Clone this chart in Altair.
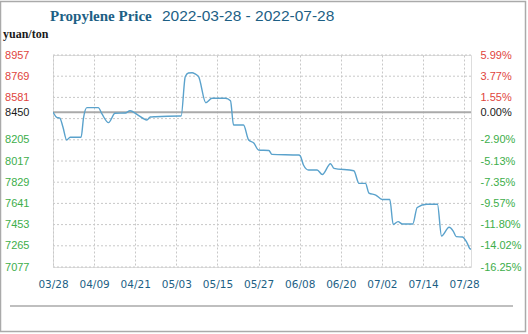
import altair as alt
import pandas as pd

# ---- data ----
days = [0, 1.1, 2.0, 2.9, 4.0, 5.0, 8.2, 8.9, 9.9, 13.2, 14.3, 16.2, 18.1, 21.1, 22.5,
        24.5, 27.4, 28.4, 29.8, 37.1, 37.4, 38.6, 39.5, 40.6, 41.5, 42.5, 44.6, 46.4,
        50.3, 51.8, 52.7, 55.6, 57.1, 58.6, 60.0, 63.0, 63.9, 71.7, 72.2, 73.1, 74.6,
        77.1, 78.6, 81.0, 82.0, 87.8, 89.3, 91.2, 92.2, 94.2, 96.1, 98.3, 99.3, 100.7,
        102.0, 105.0, 106.3, 109.1, 112.2, 113.4, 115.6, 116.8, 117.7, 119.5, 120.8,
        121.8, 122]
prices = [8450, 8404, 8398, 8318, 8203, 8227, 8227, 8398, 8490, 8490, 8434, 8357, 8440,
          8443, 8463, 8431, 8381, 8407, 8410, 8416, 8416, 8765, 8797, 8800, 8789, 8765,
          8534, 8573, 8573, 8552, 8336, 8336, 8203, 8177, 8115, 8110, 8076, 8070, 8061,
          7982, 7937, 7937, 7897, 7993, 7952, 7931, 7819, 7819, 7733, 7715, 7676, 7676,
          7454, 7479, 7458, 7458, 7605, 7634, 7634, 7352, 7429, 7396, 7346, 7343, 7294,
          7237, 7237]

x_tick_days = [0, 12, 24, 36, 48, 60, 72, 84, 96, 108, 120]
x_tick_labels = ["03/28", "04/09", "04/21", "05/03", "05/15", "05/27", "06/08",
                 "06/20", "07/02", "07/14", "07/28"]

grid_values = [8957, 8769, 8581, 8393, 8205, 8017, 7829, 7641, 7453, 7265, 7077]
left_ticks = [8957, 8769, 8581, 8450, 8205, 8017, 7829, 7641, 7453, 7265, 7077]
right_labels = ["5.99%", "3.77%", "1.55%", "0.00%", "-2.90%", "-5.13%", "-7.35%",
                "-9.57%", "-11.80%", "-14.02%", "-16.25%"]
base_value = 8450

title_main = "Propylene Price"
title_dates = "2022-03-28 - 2022-07-28"
unit_label = "yuan/ton"

# ---- styling ----
RED = "#e0443c"
GREEN = "#3dae4a"
BLACK = "#1a1a1a"
BLUE_TXT = "#1d5f85"
LINE = "#5aa2cc"
GRID = "#c8c8c8"

Y_DOMAIN = [7077, 8957]
X_DOMAIN = [0, 122]

df = pd.DataFrame({"day": days, "price": prices})
grid_df = pd.DataFrame({"g": grid_values})
base_df = pd.DataFrame({"b": [base_value]})


def map_expr(keys, labels):
    expr = "''"
    for k, l in reversed(list(zip(keys, labels))):
        expr = f"datum.value == {k} ? '{l}' : ({expr})"
    return expr


label_color = {
    "condition": [
        {"test": f"datum.value > {base_value}", "value": RED},
        {"test": f"datum.value == {base_value}", "value": BLACK},
    ],
    "value": GREEN,
}

xscale = alt.Scale(domain=X_DOMAIN, nice=False, zero=False)
yscale = alt.Scale(domain=Y_DOMAIN, nice=False, zero=False)

x_axis = alt.Axis(
    values=x_tick_days, labelExpr=map_expr(x_tick_days, x_tick_labels), title=None,
    grid=True, gridDash=[2, 2], gridColor=GRID, gridWidth=1, domain=False, ticks=False,
    labelFont="DejaVu Sans", labelFontSize=10.5, labelColor=BLUE_TXT, labelPadding=12,
    labelFlush=False,
)

grid = alt.Chart(grid_df).mark_rule(color=GRID, strokeDash=[2, 2], strokeWidth=1).encode(
    y=alt.Y("g:Q", scale=yscale, axis=alt.Axis(
        orient="right", values=left_ticks, labelExpr=map_expr(left_ticks, right_labels),
        title=None, grid=False, domain=False, ticks=False, labelFont="Liberation Sans",
        labelFontSize=11, labelColor=label_color, labelPadding=9, labelAlign="left",
        labelBaseline="middle", labelFlush=False)),
)

base = alt.Chart(base_df).mark_rule(color="#aaaaaa", strokeWidth=2).encode(
    y=alt.Y("b:Q", scale=yscale, axis=None)
)

line = alt.Chart(df).mark_line(color=LINE, strokeWidth=1.4, interpolate="monotone",
                               clip=True).encode(
    x=alt.X("day:Q", scale=xscale, axis=x_axis),
    y=alt.Y("price:Q", scale=yscale, axis=alt.Axis(
        orient="left", values=left_ticks, format="d", title=None, grid=False,
        domain=False, ticks=False, labelFont="Liberation Sans", labelFontSize=11,
        labelColor=label_color, labelPadding=24, labelAlign="right",
        labelBaseline="middle", labelFlush=False)),
)

texts_df = pd.DataFrame({"t": [title_main]})
t_main = alt.Chart(texts_df).mark_text(
    font="Liberation Serif", fontSize=15, fontWeight="bold", color=BLUE_TXT,
    align="left", baseline="alphabetic"
).encode(text="t:N", x=alt.value(-3), y=alt.value(-34))

t_dates = alt.Chart(pd.DataFrame({"t": [title_dates]})).mark_text(
    font="Liberation Sans", fontSize=15.5, color=BLUE_TXT, align="left",
    baseline="alphabetic"
).encode(text="t:N", x=alt.value(109), y=alt.value(-34))

t_unit = alt.Chart(pd.DataFrame({"t": [unit_label]})).mark_text(
    font="Liberation Serif", fontSize=12, fontWeight="bold", color=BLACK, align="left",
    baseline="alphabetic"
).encode(text="t:N", x=alt.value(-50), y=alt.value(-17))

frame = alt.Chart(texts_df).mark_rect(fill=None, stroke="#aaaaaa", strokeWidth=1.5, clip=False).encode(
    x=alt.value(-52.5), x2=alt.value(472.5), y=alt.value(-53.5), y2=alt.value(276.5)
)
sep = alt.Chart(texts_df).mark_rule(color="#aaaaaa", strokeWidth=1.5).encode(
    x=alt.value(-43), x2=alt.value(460), y=alt.value(251)
)

chart = alt.layer(grid, base, line, t_main, t_dates, t_unit, frame, sep).resolve_axis(
    y="independent"
).properties(
    width=418, height=212,
    autosize=alt.AutoSizeParams(type="none"),
    padding={"left": 53, "top": 55, "right": 57, "bottom": 67},
).configure_view(stroke="#999999", strokeWidth=1.2).configure(background="white")

chart.save("out.html", embed_options={"renderer": "svg", "actions": False})
